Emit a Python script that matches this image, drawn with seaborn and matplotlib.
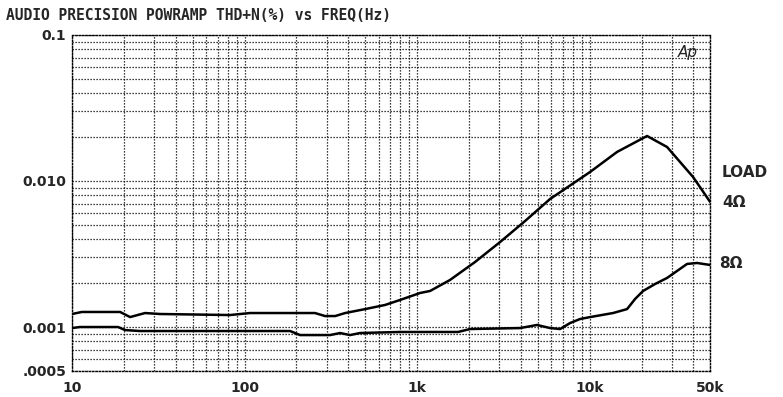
import matplotlib
matplotlib.use("Agg")
import matplotlib.pyplot as plt
import matplotlib.ticker as mticker
import seaborn as sns
import pandas as pd

# THD+N (%) vs frequency (Hz)
freq_4ohm = [10, 11.4, 19.0, 21.7, 26.5, 32.4, 82.4, 107.6, 256, 293, 335, 383,
             500, 652, 797, 1040, 1190, 1552, 2168, 3028, 4227, 5902, 10070,
             14430, 21530, 28120, 39810, 50000]
thd_4ohm = [0.001228, 0.001268, 0.001268, 0.001170, 0.001247, 0.001228,
            0.001208, 0.001247, 0.001247, 0.001189, 0.001189, 0.001247,
            0.001327, 0.001416, 0.001532, 0.001710, 0.001766, 0.002100,
            0.002788, 0.003819, 0.005320, 0.007530, 0.01153, 0.01581,
            0.02033, 0.01709, 0.01064, 0.00718]

freq_8ohm = [10, 11.1, 18.5, 20.3, 24.8, 183.6, 209.8, 313, 358, 409, 467, 797,
             1729, 2028, 3954, 4963, 5902, 6745, 7709, 8810, 10070, 13680,
             16490, 18350, 20420, 23990, 28120, 36730, 41970, 50000]
thd_8ohm = [0.000984, 0.001000, 0.001000, 0.000953, 0.000939, 0.000939,
            0.000881, 0.000881, 0.000910, 0.000881, 0.000910, 0.000925,
            0.000925, 0.000969, 0.000984, 0.001033, 0.000984, 0.000969,
            0.001065, 0.001135, 0.001170, 0.001247, 0.001327, 0.001556,
            0.001766, 0.001972, 0.002168, 0.002704, 0.002745, 0.002660]

x_ticks = [10, 100, 1000, 10000, 50000]
x_labels = ["10", "100", "1k", "10k", "50k"]
y_ticks = [0.0005, 0.001, 0.01, 0.1]
y_labels = [".0005", "0.001", "0.010", "0.1"]

df = pd.concat([
    pd.DataFrame({"freq": freq_4ohm, "thd": thd_4ohm, "load": "4Ω"}),
    pd.DataFrame({"freq": freq_8ohm, "thd": thd_8ohm, "load": "8Ω"}),
])

sns.set_style("white")
plt.rcParams["font.family"] = ["DejaVu Sans"]

fig = plt.figure(figsize=(7.83, 3.97), dpi=100)
ax = fig.add_axes([0.092, 0.0655, 0.815, 0.8465])

sns.lineplot(data=df, x="freq", y="thd", hue="load", palette=["black", "black"],
             linewidth=1.8, legend=False, sort=False, estimator=None, ax=ax)

ax.set_xscale("log")
ax.set_yscale("log")
ax.set_xlim(10, 50000)
ax.set_ylim(0.0005, 0.1)

ax.xaxis.set_major_locator(mticker.FixedLocator(x_ticks))
ax.xaxis.set_minor_locator(mticker.LogLocator(base=10, subs=range(2, 10), numticks=20))
ax.xaxis.set_minor_formatter(mticker.NullFormatter())
ax.set_xticks(x_ticks, x_labels)
ax.yaxis.set_major_locator(mticker.FixedLocator(y_ticks))
ax.yaxis.set_minor_locator(mticker.LogLocator(base=10, subs=range(2, 10), numticks=20))
ax.yaxis.set_minor_formatter(mticker.NullFormatter())
ax.set_yticks(y_ticks, y_labels)

ax.tick_params(which="both", length=0)
ax.tick_params(axis="x", pad=7, labelsize=10)
ax.tick_params(axis="y", pad=4, labelsize=10)
for lab in ax.get_xticklabels() + ax.get_yticklabels():
    lab.set_fontweight("bold")

ax.grid(which="both", color="black", linestyle=(0, (1, 1.4)), linewidth=0.9)
for sp in ax.spines.values():
    sp.set_linestyle((0, (1, 1.4)))
    sp.set_linewidth(1.0)
    sp.set_color("black")

ax.set_xlabel("")
ax.set_ylabel("")

fig.text(0.008, 0.962, "AUDIO PRECISION POWRAMP THD+N(%) vs FREQ(Hz)",
         family="DejaVu Sans Mono", fontweight="bold", fontsize=10.5, va="center")
ax.text(0.965, 0.97, "Ap", transform=ax.transAxes, style="italic",
        fontsize=11, ha="center", va="top")

fig.text(0.922, 0.565, "LOAD", fontsize=11, fontweight="bold", va="center")
fig.text(0.922, 0.489, "4Ω", fontsize=11, fontweight="bold", va="center")
fig.text(0.918, 0.337, "8Ω", fontsize=11, fontweight="bold", va="center")

fig.savefig("out.png", dpi=100)
